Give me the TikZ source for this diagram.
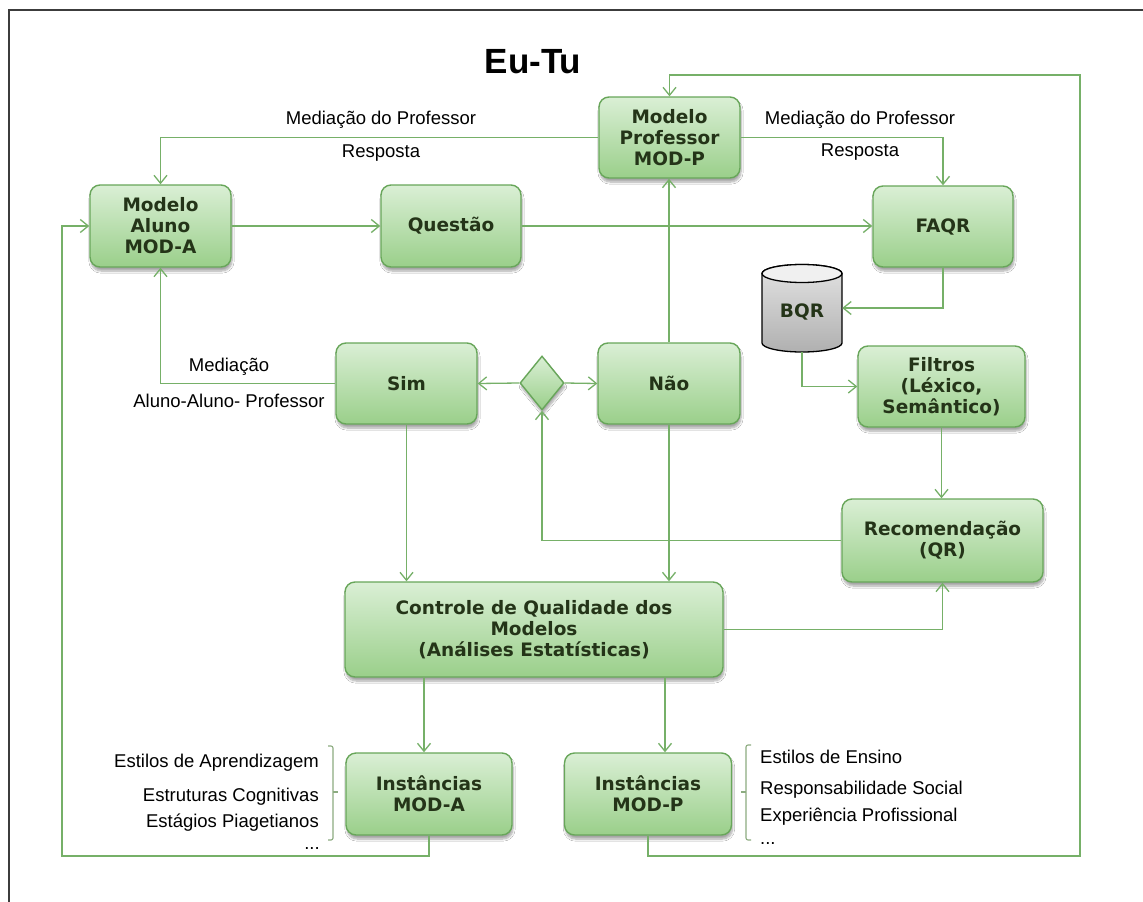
\documentclass[tikz,border=0pt]{standalone}
\usepackage{fontspec}
\setmainfont{Liberation Sans}
\newfontfamily\boxfont{DejaVu Sans}
\usetikzlibrary{arrows.meta,shapes.geometric,shadows.blur}

\definecolor{linegreen}{RGB}{118,176,104}
\definecolor{boxedge}{RGB}{104,166,90}
\definecolor{boxtop}{RGB}{218,239,213}
\definecolor{boxbot}{RGB}{154,207,138}
\definecolor{boxtext}{RGB}{36,52,24}
\definecolor{bracegreen}{RGB}{140,172,128}
\definecolor{frame}{RGB}{60,60,60}

\tikzset{
  box/.style={rectangle, rounded corners=10pt, draw=boxedge, line width=1.4pt,
    top color=boxtop, bottom color=boxbot, text=boxtext,
    font=\boxfont\bfseries\fontsize{18.5}{21}\selectfont, align=center, inner sep=2pt,
    blur shadow={shadow xshift=1pt, shadow yshift=-4pt, shadow blur steps=8, shadow opacity=35}},
  conn/.style={draw=linegreen, line width=1.3pt,
    -{Straight Barb[length=8pt,width=13pt,line width=1.3pt]}},
  lbl/.style={font=\fontsize{18.5}{22}\selectfont, text=black, inner sep=0pt},
  brace/.style={draw=bracegreen, line width=1.1pt},
}

\begin{document}
\begin{tikzpicture}[x=1pt, y=-1pt]
\useasboundingbox (0,0) rectangle (1143,902);
\fill[white] (0,0) rectangle (1143,902);

% frame
\draw[frame, line width=2pt] (9,902) -- (9,9.5) -- (1143,9.5);

% title
\node[font=\bfseries\fontsize{35}{40}\selectfont, inner sep=0pt] (title) at (533,62) {Eu-Tu};

% main boxes
\node[box, minimum width=141pt, minimum height=82pt] (aluno) at (160.5,226) {Modelo\\Aluno\\MOD-A};
\node[box, minimum width=140pt, minimum height=82pt] (questao) at (451,226) {Questão};
\node[box, minimum width=141pt, minimum height=81pt] (prof) at (669.5,137.5) {Modelo\\Professor\\MOD-P};
\node[box, minimum width=140pt, minimum height=81pt] (faqr) at (943,226.5) {FAQR};
\node[box, minimum width=167pt, minimum height=81pt] (filtros) at (941.5,386.5) {Filtros\\(Léxico,\\Semântico)};
\node[box, minimum width=141pt, minimum height=81pt] (sim) at (406.5,383.5) {Sim};
\node[box, minimum width=142pt, minimum height=81pt] (nao) at (669,383.5) {Não};
\node[box, diamond, rounded corners=0pt, minimum width=44pt, minimum height=54pt, inner sep=0pt] (dia) at (542,383) {};
\node[box, minimum width=201pt, minimum height=83pt] (recom) at (942.5,540.5) {Recomendação\\(QR)};
\node[box, minimum width=378pt, minimum height=95pt] (controle) at (534,629.5) {Controle de Qualidade dos\\Modelos\\(Análises Estatísticas)};
\node[box, minimum width=166pt, minimum height=82pt] (instA) at (429,794) {Instâncias\\MOD-A};
\node[box, minimum width=167pt, minimum height=82pt] (instP) at (648,794) {Instâncias\\MOD-P};

% database cylinder
\path[draw=black, line width=1.3pt, top color=gray!22, bottom color=gray!62]
  (762,273.5) -- (762,343) arc[start angle=180, end angle=360, x radius=40pt, y radius=9pt]
  -- (842,273.5) arc[start angle=0, end angle=180, x radius=40pt, y radius=9pt] -- cycle;
\draw[black, line width=1.3pt, fill=gray!12] (802,273.5) ellipse[x radius=40pt, y radius=9pt];
\node[inner sep=0pt, minimum width=80pt, minimum height=88pt] (bqr) at (802,308) {};
\node[inner sep=0pt, text=boxtext, font=\boxfont\bfseries\fontsize{18.5}{21}\selectfont]
  (bqrtext) at (802,312) {BQR};

% connectors
\draw[conn] (prof.west) -| (aluno.north);
\draw[conn] (prof.east) -| (faqr.north);
\draw[conn] (aluno.east) -- (questao.west);
\draw[conn] (questao.east) -- (questao.east -| faqr.west);
\draw[conn] (faqr.south) |- (bqr.east);
\draw[conn] (bqr.south) |- (filtros.west);
\draw[conn] (filtros.south) -- (filtros.south |- recom.north);
\draw[conn] (recom.west) -| (dia.south);
\draw[conn] (dia.west) -- (sim.east);
\draw[conn] (dia.east) -- (nao.west);
\draw[conn] (nao.north) -- (nao.north |- prof.south);
\draw[conn] (sim.west) -| (aluno.south);
\draw[conn] (sim.south) -- (sim.south |- controle.north);
\draw[conn] (nao.south) -- (nao.south |- controle.north);
\draw[conn] (controle.east) -| (recom.south);
\draw[conn] ([xshift=-5pt]instA.north |- controle.south) -- ([xshift=-5pt]instA.north);
\draw[conn] ([xshift=17pt]instP.north |- controle.south) -- ([xshift=17pt]instP.north);

% feedback loops
\coordinate (loopA) at (62,856);
\coordinate (loopP) at (1080,856);
\coordinate (loopTop) at (1080,75);
\draw[conn] (instA.south) |- (loopA) |- (aluno.west);
\draw[conn] (instP.south) |- (loopP) -- (loopTop) -| (prof.north);

% connector labels
\node[lbl] (mp1) at (381,120) {Mediação do Professor};
\node[lbl] (r1) at (381,153) {Resposta};
\node[lbl] (mp2) at (860,120) {Mediação do Professor};
\node[lbl] (r2) at (860,152) {Resposta};
\node[lbl] (med) at (229,367) {Mediação};
\node[lbl] (aap) at (229,401) {Aluno-Aluno- Professor};

% student attributes
\node[lbl, anchor=east] (ea1) at (319,763) {Estilos de Aprendizagem};
\node[lbl, anchor=east] (ea2) at (319,797) {Estruturas Cognitivas};
\node[lbl, anchor=east] (ea3) at (319,823) {Estágios Piagetianos};
\node[lbl] (ea4) at (312,849) {...};
\draw[brace, rounded corners=2pt] (328,746) -- (333,746) -- (333,840) -- (328,840);
\draw[brace] (333,792) -- (338,792);

% teacher attributes
\node[lbl, anchor=west] (ep1) at (760,757) {Estilos de Ensino};
\node[lbl, anchor=west] (ep2) at (760,790) {Responsabilidade Social};
\node[lbl, anchor=west] (ep3) at (760,817) {Experiência Profissional};
\node[lbl, anchor=west] (ep4) at (760,843) {...};
\draw[brace, rounded corners=2pt] (751,745) -- (746,745) -- (746,840) -- (751,840);
\draw[brace] (746,792) -- (741,792);
\end{tikzpicture}
\end{document}
